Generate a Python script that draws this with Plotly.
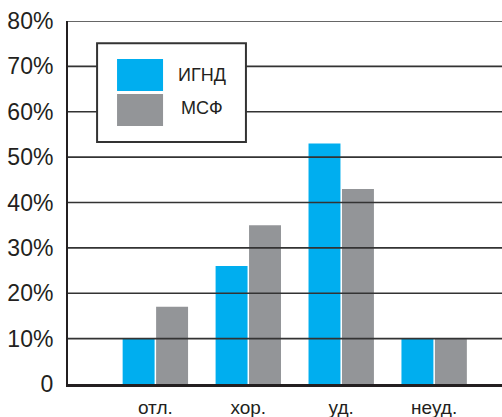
import plotly.graph_objects as go

# Grade distribution by group, percent
categories = ["отл.", "хор.", "уд.", "неуд."]
ignd_values = [10, 26, 53, 10]
msf_values = [17, 35, 43, 10]
series_names = ["ИГНД", "МСФ"]
y_ticks = [0, 10, 20, 30, 40, 50, 60, 70, 80]
y_tick_labels = ["0", "10%", "20%", "30%", "40%", "50%", "60%", "70%", "80%"]

BLUE = "#00AEEF"
GRAY = "#939598"
INK = "#231f20"
FONT = "Liberation Sans, Arial, sans-serif"

fig = go.Figure()
fig.add_trace(go.Bar(x=categories, y=ignd_values, name=series_names[0],
                     marker=dict(color=BLUE, line=dict(width=0))))
fig.add_trace(go.Bar(x=categories, y=msf_values, name=series_names[1],
                     marker=dict(color=GRAY, line=dict(width=0))))

shapes = []
# horizontal rules drawn over the bars
for v in y_ticks[1:]:
    shapes.append(dict(type="line", xref="paper", yref="y", x0=0, x1=1, y0=v, y1=v,
                       line=dict(color="#333333", width=1.6), layer="above"))

# legend frame and swatches
shapes.append(dict(type="rect", xref="paper", yref="paper", x0=0.067, x1=0.410,
                   y0=0.667, y1=0.939, fillcolor="white",
                   line=dict(color="#333333", width=2), layer="above"))
shapes.append(dict(type="rect", xref="paper", yref="paper", x0=0.113, x1=0.219,
                   y0=0.807, y1=0.895, fillcolor=BLUE, line=dict(width=0), layer="above"))
shapes.append(dict(type="rect", xref="paper", yref="paper", x0=0.113, x1=0.219,
                   y0=0.711, y1=0.799, fillcolor=GRAY, line=dict(width=0), layer="above"))

annotations = [
    dict(text=series_names[0], xref="paper", yref="paper", x=0.308, y=0.851,
         xanchor="center", yanchor="middle", showarrow=False,
         font=dict(family=FONT, size=18, color=INK)),
    dict(text=series_names[1], xref="paper", yref="paper", x=0.308, y=0.760,
         xanchor="center", yanchor="middle", showarrow=False,
         font=dict(family=FONT, size=18, color=INK)),
]

fig.update_layout(
    width=502, height=417,
    margin=dict(l=68, r=0, t=21, b=33),
    paper_bgcolor="white", plot_bgcolor="white",
    showlegend=False,
    barmode="group", bargap=0.28, bargroupgap=0.045,
    shapes=shapes, annotations=annotations,
    font=dict(family=FONT, color=INK),
)
fig.update_xaxes(
    automargin=False,
    range=[-0.94, 3.73], showgrid=False, zeroline=False,
    showline=True, linecolor=INK, linewidth=2.5,
    ticks="", ticklabelstandoff=4,
    tickfont=dict(family=FONT, size=19, color=INK),
)
fig.update_yaxes(
    automargin=False,
    range=[0, 80], tickvals=y_ticks, ticktext=y_tick_labels,
    showgrid=False, zeroline=False,
    showline=True, linecolor=INK, linewidth=2,
    ticks="", ticklabelstandoff=8,
    tickfont=dict(family=FONT, size=23, color=INK),
)

fig.write_html("out.html")
